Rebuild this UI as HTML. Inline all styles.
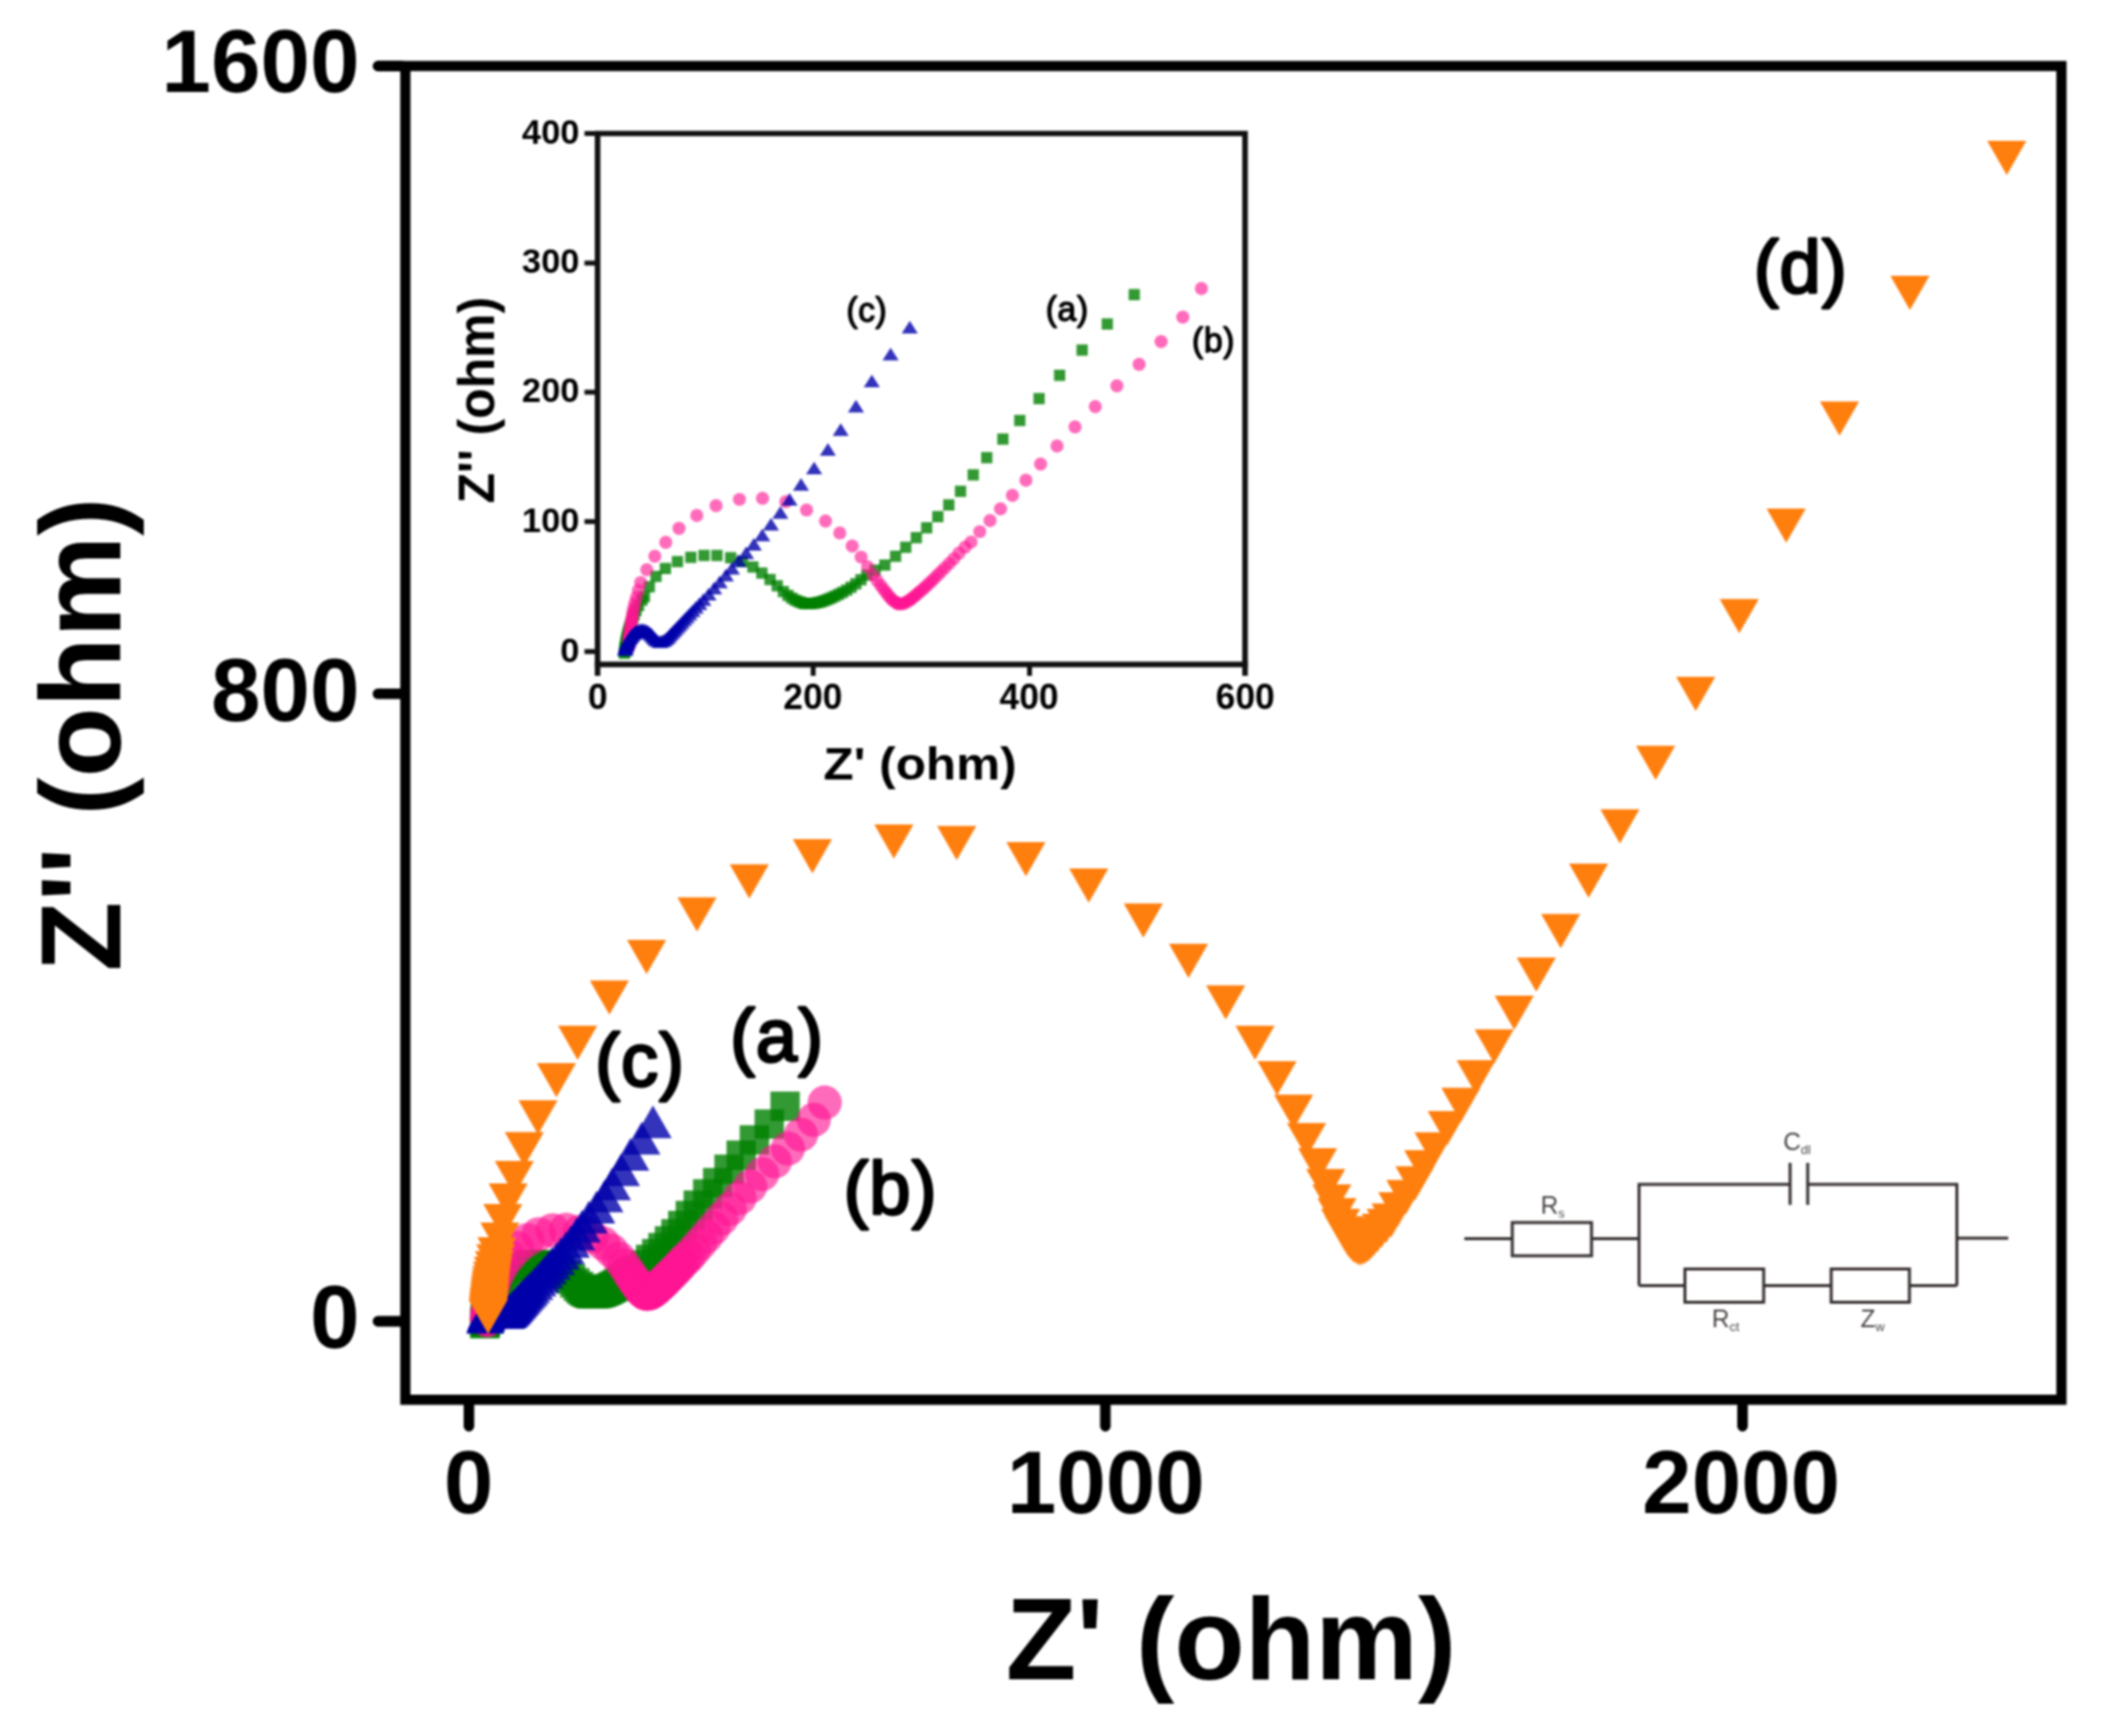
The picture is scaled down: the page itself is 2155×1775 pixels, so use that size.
<!DOCTYPE html>
<html lang="en"><head><meta charset="utf-8"><title>Nyquist plot</title>
<style>html,body{margin:0;padding:0;background:#fff}svg{display:block}text{font-family:'Liberation Sans', Arial, Helvetica, sans-serif}.b{font-weight:bold;fill:#000}.sb{font-weight:normal;fill:#000;stroke:#000;stroke-linejoin:round}.ck{font-weight:normal;fill:#4a4444}</style></head><body>
<svg width="2155" height="1775" viewBox="0 0 2155 1775">
<rect width="2155" height="1775" fill="#fff"/>
<defs><filter id="soft" filterUnits="userSpaceOnUse" x="0" y="0" width="2155" height="1775" color-interpolation-filters="sRGB"><feGaussianBlur stdDeviation="0.8"/></filter></defs>
<g filter="url(#soft)">
<rect width="2155" height="1775" fill="#fff"/>
<g stroke="#000" stroke-width="10.8" fill="none" stroke-linecap="round">
<line x1="386.4" y1="67.5" x2="410.4" y2="67.5"/>
<line x1="386.4" y1="709.4" x2="410.4" y2="709.4"/>
<line x1="386.4" y1="1351.0" x2="410.4" y2="1351.0"/>
<line x1="479.4" y1="1435.2" x2="479.4" y2="1458.3"/>
<line x1="1130.0" y1="1435.2" x2="1130.0" y2="1458.3"/>
<line x1="1781.4" y1="1435.2" x2="1781.4" y2="1458.3"/>
</g>
<rect x="414.4" y="67.5" width="1693.0" height="1363.7" fill="none" stroke="#000" stroke-width="10.4"/>
<g class="b" font-size="91">
<text x="367.5" y="94.3" text-anchor="end">1600</text>
<text x="367.5" y="737.0" text-anchor="end">800</text>
<text x="367.5" y="1378.0" text-anchor="end">0</text>
<text x="479.0" y="1546.6" text-anchor="middle">0</text>
<text x="1130.5" y="1546.6" text-anchor="middle">1000</text>
<text x="1780.0" y="1546.6" text-anchor="middle">2000</text>
</g>
<text class="b" font-size="118" x="1258.5" y="1717" text-anchor="middle">Z' (ohm)</text>
<text class="b" font-size="117" text-anchor="middle" transform="translate(122.5 751) rotate(-90)">Z'' (ohm)</text>
<g fill="#008000" fill-opacity="0.8">
<rect x="480.7" y="1338.5" width="30.0" height="30.0"/><rect x="480.8" y="1337.8" width="30.0" height="30.0"/><rect x="480.8" y="1337.0" width="30.0" height="30.0"/><rect x="481.0" y="1336.3" width="30.0" height="30.0"/><rect x="481.1" y="1335.4" width="30.0" height="30.0"/><rect x="481.2" y="1334.6" width="30.0" height="30.0"/><rect x="481.3" y="1333.7" width="30.0" height="30.0"/><rect x="481.5" y="1332.7" width="30.0" height="30.0"/><rect x="481.6" y="1331.7" width="30.0" height="30.0"/><rect x="481.8" y="1330.7" width="30.0" height="30.0"/><rect x="482.0" y="1329.6" width="30.0" height="30.0"/><rect x="482.3" y="1328.4" width="30.0" height="30.0"/><rect x="482.6" y="1327.1" width="30.0" height="30.0"/><rect x="482.9" y="1325.8" width="30.0" height="30.0"/><rect x="483.3" y="1324.3" width="30.0" height="30.0"/><rect x="483.7" y="1322.7" width="30.0" height="30.0"/><rect x="484.2" y="1321.0" width="30.0" height="30.0"/><rect x="484.9" y="1319.1" width="30.0" height="30.0"/><rect x="485.6" y="1317.0" width="30.0" height="30.0"/><rect x="486.5" y="1314.7" width="30.0" height="30.0"/><rect x="487.6" y="1312.0" width="30.0" height="30.0"/><rect x="489.1" y="1308.9" width="30.0" height="30.0"/><rect x="491.2" y="1305.4" width="30.0" height="30.0"/><rect x="492.6" y="1303.3" width="30.0" height="30.0"/><rect x="495.6" y="1297.3" width="30.0" height="30.0"/><rect x="499.6" y="1290.8" width="30.0" height="30.0"/><rect x="505.3" y="1285.9" width="30.0" height="30.0"/><rect x="512.5" y="1281.7" width="30.0" height="30.0"/><rect x="520.6" y="1279.0" width="30.0" height="30.0"/><rect x="528.5" y="1277.9" width="30.0" height="30.0"/><rect x="536.4" y="1277.9" width="30.0" height="30.0"/><rect x="544.6" y="1279.2" width="30.0" height="30.0"/><rect x="551.6" y="1281.6" width="30.0" height="30.0"/><rect x="558.0" y="1285.0" width="30.0" height="30.0"/><rect x="563.4" y="1288.8" width="30.0" height="30.0"/><rect x="568.3" y="1292.7" width="30.0" height="30.0"/><rect x="572.6" y="1296.7" width="30.0" height="30.0"/><rect x="576.3" y="1300.2" width="30.0" height="30.0"/><rect x="579.1" y="1302.6" width="30.0" height="30.0"/><rect x="581.4" y="1304.3" width="30.0" height="30.0"/><rect x="583.4" y="1305.5" width="30.0" height="30.0"/><rect x="585.3" y="1306.3" width="30.0" height="30.0"/><rect x="586.9" y="1306.9" width="30.0" height="30.0"/><rect x="588.4" y="1307.4" width="30.0" height="30.0"/><rect x="589.6" y="1307.8" width="30.0" height="30.0"/><rect x="590.9" y="1307.7" width="30.0" height="30.0"/><rect x="592.2" y="1307.7" width="30.0" height="30.0"/><rect x="593.6" y="1307.6" width="30.0" height="30.0"/><rect x="595.1" y="1307.4" width="30.0" height="30.0"/><rect x="596.6" y="1307.1" width="30.0" height="30.0"/><rect x="598.2" y="1306.8" width="30.0" height="30.0"/><rect x="599.9" y="1306.2" width="30.0" height="30.0"/><rect x="601.6" y="1305.6" width="30.0" height="30.0"/><rect x="603.5" y="1304.9" width="30.0" height="30.0"/><rect x="605.4" y="1304.0" width="30.0" height="30.0"/><rect x="607.4" y="1303.1" width="30.0" height="30.0"/><rect x="609.6" y="1302.0" width="30.0" height="30.0"/><rect x="611.9" y="1300.7" width="30.0" height="30.0"/><rect x="614.4" y="1299.3" width="30.0" height="30.0"/><rect x="617.1" y="1297.5" width="30.0" height="30.0"/><rect x="619.9" y="1295.4" width="30.0" height="30.0"/><rect x="623.0" y="1292.9" width="30.0" height="30.0"/><rect x="626.6" y="1290.0" width="30.0" height="30.0"/><rect x="631.5" y="1287.0" width="30.0" height="30.0"/><rect x="637.4" y="1283.8" width="30.0" height="30.0"/><rect x="643.9" y="1278.3" width="30.0" height="30.0"/><rect x="650.1" y="1272.7" width="30.0" height="30.0"/><rect x="656.4" y="1266.8" width="30.0" height="30.0"/><rect x="662.7" y="1260.6" width="30.0" height="30.0"/><rect x="669.4" y="1253.7" width="30.0" height="30.0"/><rect x="676.0" y="1246.5" width="30.0" height="30.0"/><rect x="683.0" y="1238.0" width="30.0" height="30.0"/><rect x="690.7" y="1227.8" width="30.0" height="30.0"/><rect x="698.8" y="1217.2" width="30.0" height="30.0"/><rect x="708.5" y="1205.7" width="30.0" height="30.0"/><rect x="718.7" y="1194.2" width="30.0" height="30.0"/><rect x="730.3" y="1180.5" width="30.0" height="30.0"/><rect x="742.7" y="1166.1" width="30.0" height="30.0"/><rect x="756.2" y="1150.5" width="30.0" height="30.0"/><rect x="771.4" y="1134.3" width="30.0" height="30.0"/><rect x="787.6" y="1116.1" width="30.0" height="30.0"/>
</g>
<g fill="#ff1493" fill-opacity="0.63">
<circle cx="498.1" cy="1349.9" r="17.5"/><circle cx="498.1" cy="1349.2" r="17.5"/><circle cx="498.2" cy="1348.4" r="17.5"/><circle cx="498.2" cy="1347.6" r="17.5"/><circle cx="498.3" cy="1346.8" r="17.5"/><circle cx="498.3" cy="1345.9" r="17.5"/><circle cx="498.4" cy="1345.0" r="17.5"/><circle cx="498.5" cy="1344.0" r="17.5"/><circle cx="498.6" cy="1343.0" r="17.5"/><circle cx="498.8" cy="1342.0" r="17.5"/><circle cx="498.9" cy="1340.8" r="17.5"/><circle cx="499.1" cy="1339.6" r="17.5"/><circle cx="499.3" cy="1338.3" r="17.5"/><circle cx="499.5" cy="1336.9" r="17.5"/><circle cx="499.7" cy="1335.4" r="17.5"/><circle cx="499.9" cy="1333.8" r="17.5"/><circle cx="500.1" cy="1331.9" r="17.5"/><circle cx="500.4" cy="1329.9" r="17.5"/><circle cx="500.8" cy="1327.7" r="17.5"/><circle cx="501.3" cy="1325.1" r="17.5"/><circle cx="502.0" cy="1322.2" r="17.5"/><circle cx="502.9" cy="1318.7" r="17.5"/><circle cx="504.1" cy="1314.4" r="17.5"/><circle cx="505.4" cy="1309.6" r="17.5"/><circle cx="509.1" cy="1301.7" r="17.5"/><circle cx="513.9" cy="1293.3" r="17.5"/><circle cx="520.5" cy="1284.7" r="17.5"/><circle cx="528.5" cy="1276.0" r="17.5"/><circle cx="539.2" cy="1268.0" r="17.5"/><circle cx="550.8" cy="1261.9" r="17.5"/><circle cx="564.9" cy="1258.0" r="17.5"/><circle cx="578.8" cy="1257.4" r="17.5"/><circle cx="592.8" cy="1259.5" r="17.5"/><circle cx="605.3" cy="1264.6" r="17.5"/><circle cx="616.7" cy="1271.5" r="17.5"/><circle cx="625.3" cy="1278.8" r="17.5"/><circle cx="632.8" cy="1286.9" r="17.5"/><circle cx="638.1" cy="1293.8" r="17.5"/><circle cx="642.1" cy="1299.8" r="17.5"/><circle cx="645.3" cy="1304.9" r="17.5"/><circle cx="647.8" cy="1308.5" r="17.5"/><circle cx="649.9" cy="1311.4" r="17.5"/><circle cx="651.7" cy="1313.8" r="17.5"/><circle cx="653.2" cy="1315.8" r="17.5"/><circle cx="654.5" cy="1317.6" r="17.5"/><circle cx="655.8" cy="1319.1" r="17.5"/><circle cx="657.1" cy="1320.4" r="17.5"/><circle cx="658.3" cy="1321.4" r="17.5"/><circle cx="659.6" cy="1322.3" r="17.5"/><circle cx="660.5" cy="1322.9" r="17.5"/><circle cx="661.8" cy="1322.8" r="17.5"/><circle cx="663.1" cy="1322.7" r="17.5"/><circle cx="664.5" cy="1322.3" r="17.5"/><circle cx="665.8" cy="1321.6" r="17.5"/><circle cx="667.0" cy="1320.7" r="17.5"/><circle cx="668.3" cy="1319.8" r="17.5"/><circle cx="669.6" cy="1318.7" r="17.5"/><circle cx="671.0" cy="1317.6" r="17.5"/><circle cx="672.3" cy="1316.4" r="17.5"/><circle cx="673.8" cy="1315.1" r="17.5"/><circle cx="675.3" cy="1313.7" r="17.5"/><circle cx="676.9" cy="1312.2" r="17.5"/><circle cx="678.6" cy="1310.6" r="17.5"/><circle cx="680.3" cy="1308.9" r="17.5"/><circle cx="682.2" cy="1307.0" r="17.5"/><circle cx="684.2" cy="1305.0" r="17.5"/><circle cx="686.3" cy="1302.8" r="17.5"/><circle cx="688.7" cy="1300.4" r="17.5"/><circle cx="691.3" cy="1297.8" r="17.5"/><circle cx="694.0" cy="1294.8" r="17.5"/><circle cx="697.1" cy="1291.4" r="17.5"/><circle cx="700.7" cy="1287.7" r="17.5"/><circle cx="704.3" cy="1284.5" r="17.5"/><circle cx="709.6" cy="1278.1" r="17.5"/><circle cx="715.8" cy="1271.1" r="17.5"/><circle cx="722.1" cy="1263.9" r="17.5"/><circle cx="729.3" cy="1255.6" r="17.5"/><circle cx="737.3" cy="1246.2" r="17.5"/><circle cx="746.2" cy="1236.1" r="17.5"/><circle cx="756.1" cy="1224.9" r="17.5"/><circle cx="766.9" cy="1213.1" r="17.5"/><circle cx="779.1" cy="1200.5" r="17.5"/><circle cx="792.1" cy="1187.6" r="17.5"/><circle cx="805.5" cy="1174.3" r="17.5"/><circle cx="818.8" cy="1160.2" r="17.5"/><circle cx="831.9" cy="1145.0" r="17.5"/><circle cx="843.1" cy="1127.3" r="17.5"/>
</g>
<g fill="#0000aa" fill-opacity="0.8">
<path d="M476.8 1363.8h38.5l-19.2 -33.5z"/><path d="M476.9 1363.1h38.5l-19.2 -33.5z"/><path d="M477.1 1362.4h38.5l-19.2 -33.5z"/><path d="M477.3 1361.6h38.5l-19.2 -33.5z"/><path d="M477.6 1360.9h38.5l-19.2 -33.5z"/><path d="M477.8 1360.2h38.5l-19.2 -33.5z"/><path d="M478.1 1359.5h38.5l-19.2 -33.5z"/><path d="M478.4 1358.8h38.5l-19.2 -33.5z"/><path d="M478.7 1358.0h38.5l-19.2 -33.5z"/><path d="M479.1 1357.3h38.5l-19.2 -33.5z"/><path d="M479.5 1356.6h38.5l-19.2 -33.5z"/><path d="M479.9 1356.0h38.5l-19.2 -33.5z"/><path d="M480.4 1355.3h38.5l-19.2 -33.5z"/><path d="M481.0 1354.6h38.5l-19.2 -33.5z"/><path d="M481.6 1354.0h38.5l-19.2 -33.5z"/><path d="M482.2 1353.4h38.5l-19.2 -33.5z"/><path d="M482.9 1352.9h38.5l-19.2 -33.5z"/><path d="M483.6 1352.4h38.5l-19.2 -33.5z"/><path d="M484.4 1352.0h38.5l-19.2 -33.5z"/><path d="M485.2 1351.6h38.5l-19.2 -33.5z"/><path d="M486.1 1351.4h38.5l-19.2 -33.5z"/><path d="M487.0 1351.3h38.5l-19.2 -33.5z"/><path d="M488.0 1351.4h38.5l-19.2 -33.5z"/><path d="M488.9 1351.7h38.5l-19.2 -33.5z"/><path d="M489.8 1352.1h38.5l-19.2 -33.5z"/><path d="M490.7 1352.6h38.5l-19.2 -33.5z"/><path d="M491.5 1353.2h38.5l-19.2 -33.5z"/><path d="M492.2 1353.9h38.5l-19.2 -33.5z"/><path d="M493.0 1354.7h38.5l-19.2 -33.5z"/><path d="M493.6 1355.5h38.5l-19.2 -33.5z"/><path d="M494.3 1356.4h38.5l-19.2 -33.5z"/><path d="M495.1 1357.2h38.5l-19.2 -33.5z"/><path d="M496.0 1357.9h38.5l-19.2 -33.5z"/><path d="M497.4 1358.7h38.5l-19.2 -33.5z"/><path d="M498.5 1358.5h38.5l-19.2 -33.5z"/><path d="M499.7 1358.1h38.5l-19.2 -33.5z"/><path d="M500.8 1357.5h38.5l-19.2 -33.5z"/><path d="M501.8 1356.6h38.5l-19.2 -33.5z"/><path d="M502.8 1355.6h38.5l-19.2 -33.5z"/><path d="M503.8 1354.5h38.5l-19.2 -33.5z"/><path d="M504.8 1353.4h38.5l-19.2 -33.5z"/><path d="M505.9 1352.2h38.5l-19.2 -33.5z"/><path d="M507.0 1350.9h38.5l-19.2 -33.5z"/><path d="M508.3 1349.6h38.5l-19.2 -33.5z"/><path d="M509.5 1348.2h38.5l-19.2 -33.5z"/><path d="M510.9 1346.7h38.5l-19.2 -33.5z"/><path d="M512.3 1345.1h38.5l-19.2 -33.5z"/><path d="M513.9 1343.4h38.5l-19.2 -33.5z"/><path d="M515.5 1341.6h38.5l-19.2 -33.5z"/><path d="M517.3 1339.6h38.5l-19.2 -33.5z"/><path d="M519.3 1337.5h38.5l-19.2 -33.5z"/><path d="M521.5 1335.2h38.5l-19.2 -33.5z"/><path d="M523.9 1332.6h38.5l-19.2 -33.5z"/><path d="M527.1 1329.3h38.5l-19.2 -33.5z"/><path d="M530.4 1325.5h38.5l-19.2 -33.5z"/><path d="M533.8 1321.7h38.5l-19.2 -33.5z"/><path d="M537.4 1317.6h38.5l-19.2 -33.5z"/><path d="M541.1 1313.3h38.5l-19.2 -33.5z"/><path d="M545.1 1308.6h38.5l-19.2 -33.5z"/><path d="M549.6 1303.7h38.5l-19.2 -33.5z"/><path d="M554.3 1298.3h38.5l-19.2 -33.5z"/><path d="M559.3 1292.7h38.5l-19.2 -33.5z"/><path d="M564.6 1286.0h38.5l-19.2 -33.5z"/><path d="M570.2 1278.6h38.5l-19.2 -33.5z"/><path d="M575.8 1270.5h38.5l-19.2 -33.5z"/><path d="M582.7 1261.3h38.5l-19.2 -33.5z"/><path d="M590.6 1251.1h38.5l-19.2 -33.5z"/><path d="M598.9 1239.5h38.5l-19.2 -33.5z"/><path d="M606.6 1227.3h38.5l-19.2 -33.5z"/><path d="M615.8 1212.7h38.5l-19.2 -33.5z"/><path d="M625.3 1197.1h38.5l-19.2 -33.5z"/><path d="M636.7 1180.4h38.5l-19.2 -33.5z"/><path d="M648.2 1163.8h38.5l-19.2 -33.5z"/>
</g>
<g fill="#ff7f0e">
<path d="M479.0 1329.0h40.0l-20.0 35.0zM479.2 1327.4h40.0l-20.0 35.0zM479.3 1325.7h40.0l-20.0 35.0zM479.5 1324.0h40.0l-20.0 35.0zM479.6 1322.1h40.0l-20.0 35.0zM479.8 1320.2h40.0l-20.0 35.0zM480.0 1318.1h40.0l-20.0 35.0zM480.2 1315.9h40.0l-20.0 35.0zM480.5 1313.5h40.0l-20.0 35.0zM480.7 1311.0h40.0l-20.0 35.0zM480.9 1308.3h40.0l-20.0 35.0zM481.2 1305.3h40.0l-20.0 35.0zM481.6 1302.1h40.0l-20.0 35.0zM482.0 1298.5h40.0l-20.0 35.0zM482.6 1294.6h40.0l-20.0 35.0zM483.3 1290.1h40.0l-20.0 35.0zM484.3 1285.1h40.0l-20.0 35.0zM485.4 1279.2h40.0l-20.0 35.0zM486.7 1272.2h40.0l-20.0 35.0zM488.0 1265.0h40.0l-20.0 35.0zM491.0 1250.0h40.0l-20.0 35.0zM494.0 1231.0h40.0l-20.0 35.0zM499.5 1210.0h40.0l-20.0 35.0zM505.8 1187.0h40.0l-20.0 35.0zM516.0 1157.5h40.0l-20.0 35.0zM530.0 1125.0h40.0l-20.0 35.0zM548.8 1087.0h40.0l-20.0 35.0zM570.5 1048.8h40.0l-20.0 35.0zM603.0 1002.5h40.0l-20.0 35.0zM641.0 961.0h40.0l-20.0 35.0zM692.5 917.5h40.0l-20.0 35.0zM746.0 883.8h40.0l-20.0 35.0zM810.5 858.0h40.0l-20.0 35.0zM893.8 843.0h40.0l-20.0 35.0zM958.0 844.5h40.0l-20.0 35.0zM1028.8 861.0h40.0l-20.0 35.0zM1093.0 888.0h40.0l-20.0 35.0zM1148.8 923.8h40.0l-20.0 35.0zM1195.0 965.0h40.0l-20.0 35.0zM1233.0 1007.5h40.0l-20.0 35.0zM1263.0 1048.8h40.0l-20.0 35.0zM1285.5 1085.0h40.0l-20.0 35.0zM1302.5 1119.2h40.0l-20.0 35.0zM1315.7 1148.2h40.0l-20.0 35.0zM1327.0 1174.0h40.0l-20.0 35.0zM1335.3 1195.3h40.0l-20.0 35.0zM1341.5 1211.0h40.0l-20.0 35.0zM1346.8 1225.0h40.0l-20.0 35.0zM1350.5 1236.0h40.0l-20.0 35.0zM1354.4 1243.5h40.0l-20.0 35.0zM1357.8 1249.0h40.0l-20.0 35.0zM1360.9 1253.1h40.0l-20.0 35.0zM1363.9 1256.2h40.0l-20.0 35.0zM1367.2 1258.1h40.0l-20.0 35.0zM1370.0 1259.2h40.0l-20.0 35.0zM1372.9 1258.4h40.0l-20.0 35.0zM1375.9 1257.1h40.0l-20.0 35.0zM1378.8 1254.9h40.0l-20.0 35.0zM1381.6 1252.2h40.0l-20.0 35.0zM1384.7 1249.0h40.0l-20.0 35.0zM1388.2 1245.3h40.0l-20.0 35.0zM1392.2 1241.0h40.0l-20.0 35.0zM1397.0 1235.9h40.0l-20.0 35.0zM1402.0 1230.6h40.0l-20.0 35.0zM1409.0 1219.0h40.0l-20.0 35.0zM1417.2 1206.5h40.0l-20.0 35.0zM1426.5 1192.5h40.0l-20.0 35.0zM1435.5 1176.0h40.0l-20.0 35.0zM1446.0 1157.8h40.0l-20.0 35.0zM1459.5 1136.0h40.0l-20.0 35.0zM1473.5 1112.3h40.0l-20.0 35.0zM1489.0 1084.0h40.0l-20.0 35.0zM1507.5 1052.5h40.0l-20.0 35.0zM1528.0 1018.0h40.0l-20.0 35.0zM1550.5 979.0h40.0l-20.0 35.0zM1575.5 934.5h40.0l-20.0 35.0zM1604.0 883.0h40.0l-20.0 35.0zM1636.0 827.5h40.0l-20.0 35.0zM1672.5 762.5h40.0l-20.0 35.0zM1713.5 692.0h40.0l-20.0 35.0zM1758.0 612.5h40.0l-20.0 35.0zM1806.0 520.0h40.0l-20.0 35.0zM1860.5 410.5h40.0l-20.0 35.0zM1932.5 282.0h40.0l-20.0 35.0zM2031.5 144.0h40.0l-20.0 35.0z"/>
</g>
<g class="sb" font-size="75.5" stroke-width="2.9" letter-spacing="1.3">
<text x="794.5" y="1085.0" text-anchor="middle">(a)</text>
<text x="910.5" y="1241.0" text-anchor="middle">(b)</text>
<text x="654.5" y="1110.0" text-anchor="middle">(c)</text>
<text x="1841.0" y="298.5" text-anchor="middle">(d)</text>
</g>
<g stroke="#111" fill="none">
<g stroke-width="5">
<line x1="597.5" y1="136.5" x2="610.9" y2="136.5"/>
<line x1="597.5" y1="269.0" x2="610.9" y2="269.0"/>
<line x1="597.5" y1="401.0" x2="610.9" y2="401.0"/>
<line x1="597.5" y1="533.3" x2="610.9" y2="533.3"/>
<line x1="597.5" y1="666.2" x2="610.9" y2="666.2"/>
<line x1="831.3" y1="679.4" x2="831.3" y2="691"/>
<line x1="1052.5" y1="679.4" x2="1052.5" y2="691"/>
</g>
<path stroke-width="5.7" d="M610.9 691V136.5H1272.8V691M607.9 679.4H1275.8"/>
</g>
<g class="b" font-size="36.2">
<text x="592.3" y="146.9" text-anchor="end" font-size="35.2">400</text>
<text x="592.3" y="279.4" text-anchor="end" font-size="35.2">300</text>
<text x="592.3" y="411.4" text-anchor="end" font-size="35.2">200</text>
<text x="592.3" y="543.7" text-anchor="end" font-size="35.2">100</text>
<text x="592.3" y="676.6" text-anchor="end" font-size="35.2">0</text>
<text x="611.0" y="725.4" text-anchor="middle">0</text>
<text x="831.0" y="725.4" text-anchor="middle">200</text>
<text x="1052.0" y="725.4" text-anchor="middle">400</text>
<text x="1273.0" y="725.4" text-anchor="middle">600</text>
</g>
<text class="b" font-size="50.6" text-anchor="middle" transform="translate(940.6 796.6) scale(1 0.9)">Z' (ohm)</text>
<text class="b" font-size="51" text-anchor="middle" transform="translate(505 409.2) rotate(-90)">Z'' (ohm)</text>
<g fill="#008000" fill-opacity="0.8">
<rect x="632.6" y="662.2" width="11.5" height="11.5"/><rect x="632.8" y="661.1" width="11.5" height="11.5"/><rect x="633.0" y="659.8" width="11.5" height="11.5"/><rect x="633.2" y="658.5" width="11.5" height="11.5"/><rect x="633.3" y="657.2" width="11.5" height="11.5"/><rect x="633.5" y="655.8" width="11.5" height="11.5"/><rect x="633.8" y="654.3" width="11.5" height="11.5"/><rect x="634.0" y="652.7" width="11.5" height="11.5"/><rect x="634.3" y="651.1" width="11.5" height="11.5"/><rect x="634.6" y="649.3" width="11.5" height="11.5"/><rect x="635.0" y="647.5" width="11.5" height="11.5"/><rect x="635.4" y="645.6" width="11.5" height="11.5"/><rect x="635.9" y="643.5" width="11.5" height="11.5"/><rect x="636.4" y="641.2" width="11.5" height="11.5"/><rect x="637.1" y="638.8" width="11.5" height="11.5"/><rect x="637.8" y="636.2" width="11.5" height="11.5"/><rect x="638.7" y="633.4" width="11.5" height="11.5"/><rect x="639.8" y="630.3" width="11.5" height="11.5"/><rect x="641.0" y="626.8" width="11.5" height="11.5"/><rect x="642.5" y="622.9" width="11.5" height="11.5"/><rect x="644.4" y="618.5" width="11.5" height="11.5"/><rect x="647.0" y="613.5" width="11.5" height="11.5"/><rect x="650.6" y="607.7" width="11.5" height="11.5"/><rect x="653.0" y="604.2" width="11.5" height="11.5"/><rect x="658.0" y="594.2" width="11.5" height="11.5"/><rect x="664.9" y="583.6" width="11.5" height="11.5"/><rect x="674.5" y="575.5" width="11.5" height="11.5"/><rect x="686.8" y="568.5" width="11.5" height="11.5"/><rect x="700.5" y="564.1" width="11.5" height="11.5"/><rect x="714.0" y="562.2" width="11.5" height="11.5"/><rect x="727.2" y="562.2" width="11.5" height="11.5"/><rect x="741.2" y="564.5" width="11.5" height="11.5"/><rect x="753.0" y="568.5" width="11.5" height="11.5"/><rect x="764.0" y="574.0" width="11.5" height="11.5"/><rect x="773.1" y="580.2" width="11.5" height="11.5"/><rect x="781.5" y="586.8" width="11.5" height="11.5"/><rect x="788.8" y="593.2" width="11.5" height="11.5"/><rect x="795.1" y="599.1" width="11.5" height="11.5"/><rect x="799.8" y="603.0" width="11.5" height="11.5"/><rect x="803.7" y="605.8" width="11.5" height="11.5"/><rect x="807.1" y="607.8" width="11.5" height="11.5"/><rect x="810.3" y="609.2" width="11.5" height="11.5"/><rect x="813.1" y="610.2" width="11.5" height="11.5"/><rect x="815.6" y="611.0" width="11.5" height="11.5"/><rect x="817.5" y="611.5" width="11.5" height="11.5"/><rect x="819.7" y="611.5" width="11.5" height="11.5"/><rect x="822.0" y="611.4" width="11.5" height="11.5"/><rect x="824.4" y="611.2" width="11.5" height="11.5"/><rect x="827.0" y="611.0" width="11.5" height="11.5"/><rect x="829.6" y="610.5" width="11.5" height="11.5"/><rect x="832.3" y="609.9" width="11.5" height="11.5"/><rect x="835.1" y="609.1" width="11.5" height="11.5"/><rect x="838.1" y="608.0" width="11.5" height="11.5"/><rect x="841.2" y="606.8" width="11.5" height="11.5"/><rect x="844.4" y="605.4" width="11.5" height="11.5"/><rect x="847.9" y="603.8" width="11.5" height="11.5"/><rect x="851.6" y="602.0" width="11.5" height="11.5"/><rect x="855.5" y="599.9" width="11.5" height="11.5"/><rect x="859.8" y="597.6" width="11.5" height="11.5"/><rect x="864.3" y="594.7" width="11.5" height="11.5"/><rect x="869.1" y="591.2" width="11.5" height="11.5"/><rect x="874.4" y="587.0" width="11.5" height="11.5"/><rect x="880.4" y="582.3" width="11.5" height="11.5"/><rect x="888.8" y="577.2" width="11.5" height="11.5"/><rect x="898.9" y="572.0" width="11.5" height="11.5"/><rect x="909.8" y="563.0" width="11.5" height="11.5"/><rect x="920.2" y="553.8" width="11.5" height="11.5"/><rect x="931.0" y="544.0" width="11.5" height="11.5"/><rect x="941.6" y="533.9" width="11.5" height="11.5"/><rect x="953.0" y="522.5" width="11.5" height="11.5"/><rect x="964.2" y="510.5" width="11.5" height="11.5"/><rect x="976.2" y="496.6" width="11.5" height="11.5"/><rect x="989.2" y="479.8" width="11.5" height="11.5"/><rect x="1003.0" y="462.2" width="11.5" height="11.5"/><rect x="1019.5" y="443.2" width="11.5" height="11.5"/><rect x="1036.8" y="424.2" width="11.5" height="11.5"/><rect x="1056.5" y="401.8" width="11.5" height="11.5"/><rect x="1077.5" y="378.0" width="11.5" height="11.5"/><rect x="1100.5" y="352.2" width="11.5" height="11.5"/><rect x="1126.2" y="325.5" width="11.5" height="11.5"/><rect x="1153.8" y="295.5" width="11.5" height="11.5"/>
</g>
<g fill="#ff1493" fill-opacity="0.63">
<circle cx="642.5" cy="662.0" r="6.7"/><circle cx="642.6" cy="660.8" r="6.7"/><circle cx="642.7" cy="659.6" r="6.7"/><circle cx="642.7" cy="658.3" r="6.7"/><circle cx="642.8" cy="656.9" r="6.7"/><circle cx="643.0" cy="655.5" r="6.7"/><circle cx="643.1" cy="654.0" r="6.7"/><circle cx="643.2" cy="652.4" r="6.7"/><circle cx="643.4" cy="650.7" r="6.7"/><circle cx="643.7" cy="649.0" r="6.7"/><circle cx="643.9" cy="647.1" r="6.7"/><circle cx="644.2" cy="645.1" r="6.7"/><circle cx="644.5" cy="643.0" r="6.7"/><circle cx="644.9" cy="640.7" r="6.7"/><circle cx="645.2" cy="638.1" r="6.7"/><circle cx="645.6" cy="635.4" r="6.7"/><circle cx="646.0" cy="632.4" r="6.7"/><circle cx="646.5" cy="629.1" r="6.7"/><circle cx="647.1" cy="625.4" r="6.7"/><circle cx="648.0" cy="621.2" r="6.7"/><circle cx="649.2" cy="616.3" r="6.7"/><circle cx="650.8" cy="610.6" r="6.7"/><circle cx="652.7" cy="603.5" r="6.7"/><circle cx="655.0" cy="595.6" r="6.7"/><circle cx="661.2" cy="582.5" r="6.7"/><circle cx="669.4" cy="568.8" r="6.7"/><circle cx="680.6" cy="554.5" r="6.7"/><circle cx="694.1" cy="540.2" r="6.7"/><circle cx="712.3" cy="527.0" r="6.7"/><circle cx="732.0" cy="517.0" r="6.7"/><circle cx="755.9" cy="510.6" r="6.7"/><circle cx="779.5" cy="509.5" r="6.7"/><circle cx="803.3" cy="513.0" r="6.7"/><circle cx="824.5" cy="521.4" r="6.7"/><circle cx="843.9" cy="532.8" r="6.7"/><circle cx="858.5" cy="544.9" r="6.7"/><circle cx="871.2" cy="558.2" r="6.7"/><circle cx="880.3" cy="569.6" r="6.7"/><circle cx="887.0" cy="579.5" r="6.7"/><circle cx="892.5" cy="587.8" r="6.7"/><circle cx="896.8" cy="593.8" r="6.7"/><circle cx="900.3" cy="598.6" r="6.7"/><circle cx="903.3" cy="602.5" r="6.7"/><circle cx="905.9" cy="605.8" r="6.7"/><circle cx="908.1" cy="608.8" r="6.7"/><circle cx="910.3" cy="611.3" r="6.7"/><circle cx="912.4" cy="613.4" r="6.7"/><circle cx="914.6" cy="615.1" r="6.7"/><circle cx="916.7" cy="616.5" r="6.7"/><circle cx="918.3" cy="617.5" r="6.7"/><circle cx="920.5" cy="617.4" r="6.7"/><circle cx="922.8" cy="617.2" r="6.7"/><circle cx="925.0" cy="616.5" r="6.7"/><circle cx="927.2" cy="615.3" r="6.7"/><circle cx="929.4" cy="613.9" r="6.7"/><circle cx="931.5" cy="612.4" r="6.7"/><circle cx="933.8" cy="610.6" r="6.7"/><circle cx="936.0" cy="608.8" r="6.7"/><circle cx="938.4" cy="606.8" r="6.7"/><circle cx="940.8" cy="604.6" r="6.7"/><circle cx="943.4" cy="602.4" r="6.7"/><circle cx="946.1" cy="599.9" r="6.7"/><circle cx="949.0" cy="597.3" r="6.7"/><circle cx="952.0" cy="594.5" r="6.7"/><circle cx="955.1" cy="591.4" r="6.7"/><circle cx="958.5" cy="588.0" r="6.7"/><circle cx="962.1" cy="584.4" r="6.7"/><circle cx="966.1" cy="580.4" r="6.7"/><circle cx="970.5" cy="576.1" r="6.7"/><circle cx="975.2" cy="571.2" r="6.7"/><circle cx="980.4" cy="565.5" r="6.7"/><circle cx="986.6" cy="559.4" r="6.7"/><circle cx="992.7" cy="554.3" r="6.7"/><circle cx="1001.6" cy="543.6" r="6.7"/><circle cx="1012.1" cy="532.2" r="6.7"/><circle cx="1022.8" cy="520.2" r="6.7"/><circle cx="1035.0" cy="506.5" r="6.7"/><circle cx="1048.8" cy="491.0" r="6.7"/><circle cx="1063.8" cy="474.5" r="6.7"/><circle cx="1080.6" cy="456.0" r="6.7"/><circle cx="1099.0" cy="436.5" r="6.7"/><circle cx="1119.7" cy="415.8" r="6.7"/><circle cx="1141.8" cy="394.5" r="6.7"/><circle cx="1164.5" cy="372.5" r="6.7"/><circle cx="1187.0" cy="349.2" r="6.7"/><circle cx="1209.2" cy="324.2" r="6.7"/><circle cx="1228.2" cy="295.0" r="6.7"/>
</g>
<g fill="#0000aa" fill-opacity="0.8">
<path d="M630.8 670.8h16.5l-8.2 -13.0z"/><path d="M631.1 669.7h16.5l-8.2 -13.0z"/><path d="M631.4 668.5h16.5l-8.2 -13.0z"/><path d="M631.7 667.3h16.5l-8.2 -13.0z"/><path d="M632.1 666.1h16.5l-8.2 -13.0z"/><path d="M632.5 664.9h16.5l-8.2 -13.0z"/><path d="M633.0 663.8h16.5l-8.2 -13.0z"/><path d="M633.5 662.6h16.5l-8.2 -13.0z"/><path d="M634.1 661.4h16.5l-8.2 -13.0z"/><path d="M634.7 660.2h16.5l-8.2 -13.0z"/><path d="M635.4 659.1h16.5l-8.2 -13.0z"/><path d="M636.2 657.9h16.5l-8.2 -13.0z"/><path d="M637.0 656.9h16.5l-8.2 -13.0z"/><path d="M637.9 655.8h16.5l-8.2 -13.0z"/><path d="M638.9 654.8h16.5l-8.2 -13.0z"/><path d="M640.0 653.8h16.5l-8.2 -13.0z"/><path d="M641.1 652.9h16.5l-8.2 -13.0z"/><path d="M642.4 652.1h16.5l-8.2 -13.0z"/><path d="M643.7 651.4h16.5l-8.2 -13.0z"/><path d="M645.1 650.8h16.5l-8.2 -13.0z"/><path d="M646.6 650.4h16.5l-8.2 -13.0z"/><path d="M648.2 650.3h16.5l-8.2 -13.0z"/><path d="M649.8 650.5h16.5l-8.2 -13.0z"/><path d="M651.4 650.9h16.5l-8.2 -13.0z"/><path d="M652.9 651.5h16.5l-8.2 -13.0z"/><path d="M654.3 652.4h16.5l-8.2 -13.0z"/><path d="M655.7 653.4h16.5l-8.2 -13.0z"/><path d="M657.0 654.5h16.5l-8.2 -13.0z"/><path d="M658.2 655.8h16.5l-8.2 -13.0z"/><path d="M659.4 657.2h16.5l-8.2 -13.0z"/><path d="M660.6 658.6h16.5l-8.2 -13.0z"/><path d="M661.9 660.0h16.5l-8.2 -13.0z"/><path d="M663.4 661.2h16.5l-8.2 -13.0z"/><path d="M665.8 662.5h16.5l-8.2 -13.0z"/><path d="M667.7 662.2h16.5l-8.2 -13.0z"/><path d="M669.7 661.6h16.5l-8.2 -13.0z"/><path d="M671.6 660.5h16.5l-8.2 -13.0z"/><path d="M673.3 659.1h16.5l-8.2 -13.0z"/><path d="M675.0 657.4h16.5l-8.2 -13.0z"/><path d="M676.6 655.6h16.5l-8.2 -13.0z"/><path d="M678.4 653.7h16.5l-8.2 -13.0z"/><path d="M680.2 651.7h16.5l-8.2 -13.0z"/><path d="M682.2 649.7h16.5l-8.2 -13.0z"/><path d="M684.2 647.5h16.5l-8.2 -13.0z"/><path d="M686.4 645.2h16.5l-8.2 -13.0z"/><path d="M688.7 642.7h16.5l-8.2 -13.0z"/><path d="M691.2 640.1h16.5l-8.2 -13.0z"/><path d="M693.8 637.3h16.5l-8.2 -13.0z"/><path d="M696.6 634.3h16.5l-8.2 -13.0z"/><path d="M699.7 631.0h16.5l-8.2 -13.0z"/><path d="M703.0 627.5h16.5l-8.2 -13.0z"/><path d="M706.7 623.7h16.5l-8.2 -13.0z"/><path d="M710.8 619.5h16.5l-8.2 -13.0z"/><path d="M716.1 614.0h16.5l-8.2 -13.0z"/><path d="M721.8 607.7h16.5l-8.2 -13.0z"/><path d="M727.5 601.5h16.5l-8.2 -13.0z"/><path d="M733.8 594.6h16.5l-8.2 -13.0z"/><path d="M740.0 587.6h16.5l-8.2 -13.0z"/><path d="M746.9 579.8h16.5l-8.2 -13.0z"/><path d="M754.5 571.8h16.5l-8.2 -13.0z"/><path d="M762.4 562.9h16.5l-8.2 -13.0z"/><path d="M771.0 553.6h16.5l-8.2 -13.0z"/><path d="M779.9 542.6h16.5l-8.2 -13.0z"/><path d="M789.5 530.4h16.5l-8.2 -13.0z"/><path d="M798.9 517.1h16.5l-8.2 -13.0z"/><path d="M810.6 501.8h16.5l-8.2 -13.0z"/><path d="M824.0 485.1h16.5l-8.2 -13.0z"/><path d="M838.1 466.0h16.5l-8.2 -13.0z"/><path d="M851.2 445.8h16.5l-8.2 -13.0z"/><path d="M866.8 421.8h16.5l-8.2 -13.0z"/><path d="M883.0 396.1h16.5l-8.2 -13.0z"/><path d="M902.2 368.6h16.5l-8.2 -13.0z"/><path d="M921.8 341.1h16.5l-8.2 -13.0z"/>
</g>
<g class="sb" font-size="34.5" stroke-width="1.3" letter-spacing="0.6">
<text x="1091.0" y="327.8" text-anchor="middle">(a)</text>
<text x="1240.6" y="360.2" text-anchor="middle">(b)</text>
<text x="886.2" y="328.8" text-anchor="middle">(c)</text>
</g>
<g stroke="#352d2d" stroke-width="3" fill="none">
<path d="M1497 1266.5H1546M1627 1266.5H1675.6M1675.6 1314.4V1211H1830M1848 1211H2000.5V1314.4M2000.5 1266H2053M1675.6 1314.4H1722.5M1803 1314.4H1872M1952 1314.4H2000.5"/>
<path d="M1830 1189V1232M1848 1189V1232"/>
<rect x="1546" y="1250" width="81" height="34" fill="#fff"/>
<rect x="1722.5" y="1297.5" width="80.5" height="34" fill="#fff"/>
<rect x="1872" y="1297.5" width="80" height="34" fill="#fff"/>
</g>
<g class="ck" font-size="25">
<text x="1575" y="1241">R<tspan font-size="13" dy="4">s</tspan></text>
<text x="1823" y="1176">C<tspan font-size="13" dy="4">dl</tspan></text>
<text x="1750" y="1357">R<tspan font-size="13" dy="4">ct</tspan></text>
<text x="1902" y="1357">Z<tspan font-size="13" dy="4">w</tspan></text>
</g>
</g>
</svg></body></html>
